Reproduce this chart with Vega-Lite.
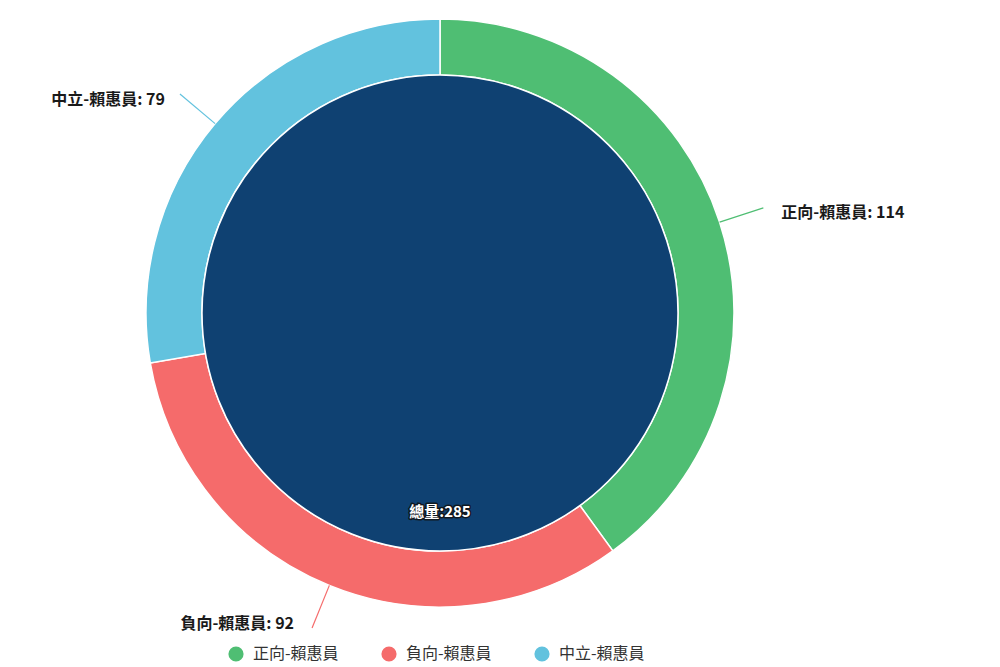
{
  "$schema": "https://vega.github.io/schema/vega-lite/v6.json",
  "width": 880,
  "height": 667,
  "padding": 0,
  "background": "white",
  "data": {
    "values": [
      {"cat": "正向-賴惠員", "count": 114, "order": 1},
      {"cat": "負向-賴惠員", "count": 92, "order": 2},
      {"cat": "中立-賴惠員", "count": 79, "order": 3}
    ]
  },
  "transform": [
    {"window": [{"op": "sum", "field": "count", "as": "cum"}], "sort": [{"field": "order"}], "frame": [null, 0]},
    {"joinaggregate": [{"op": "sum", "field": "count", "as": "total"}]},
    {"calculate": "2 * PI * (datum.cum - datum.count / 2) / datum.total", "as": "mid"},
    {"calculate": "294 * sin(datum.mid)", "as": "ax"},
    {"calculate": "294 * cos(datum.mid)", "as": "ay"},
    {"calculate": "340 * sin(datum.mid)", "as": "bx"},
    {"calculate": "340 * cos(datum.mid)", "as": "by"},
    {"calculate": "datum.cat + ': ' + datum.count", "as": "label"}
  ],
  "layer": [
    {
      "mark": {"type": "arc", "outerRadius": 294, "innerRadius": 238, "stroke": "white", "strokeWidth": 1.5},
      "encoding": {
        "x": {"datum": 0, "type": "quantitative", "scale": {"domain": [-440, 440], "nice": false, "zero": false}, "axis": null},
        "y": {"datum": 0, "type": "quantitative", "scale": {"domain": [-354, 313], "nice": false, "zero": false}, "axis": null},
        "theta": {"field": "count", "type": "quantitative", "stack": true},
        "order": {"field": "order"},
        "color": {
          "field": "cat",
          "type": "nominal",
          "scale": {
            "domain": ["正向-賴惠員", "負向-賴惠員", "中立-賴惠員"],
            "range": ["#4fbe73", "#f56b6b", "#62c2de"]
          },
          "legend": {"title": null, "orient": "none", "direction": "horizontal", "legendX": 228, "legendY": 646}
        }
      }
    },
    {
      "mark": {"type": "rule", "strokeWidth": 1.2},
      "encoding": {
        "x": {"field": "ax", "type": "quantitative"},
        "y": {"field": "ay", "type": "quantitative"},
        "x2": {"field": "bx"},
        "y2": {"field": "by"},
        "color": {"field": "cat", "type": "nominal", "legend": null}
      }
    },
    {
      "transform": [{"filter": "datum.cat == '正向-賴惠員'"}],
      "mark": {"type": "text", "align": "left", "baseline": "middle", "dx": 18, "dy": 5, "font": "Noto Sans CJK TC", "fontSize": 16, "fontWeight": "bold", "color": "#1a1a1a"},
      "encoding": {
        "x": {"field": "bx", "type": "quantitative"},
        "y": {"field": "by", "type": "quantitative"},
        "text": {"field": "label"}
      }
    },
    {
      "transform": [{"filter": "datum.cat == '中立-賴惠員'"}],
      "mark": {"type": "text", "align": "right", "baseline": "middle", "dx": -15, "dy": 6, "font": "Noto Sans CJK TC", "fontSize": 16, "fontWeight": "bold", "color": "#1a1a1a"},
      "encoding": {
        "x": {"field": "bx", "type": "quantitative"},
        "y": {"field": "by", "type": "quantitative"},
        "text": {"field": "label"}
      }
    },
    {
      "transform": [{"filter": "datum.cat == '負向-賴惠員'"}],
      "mark": {"type": "text", "align": "right", "baseline": "middle", "dx": -18, "dy": -4, "font": "Noto Sans CJK TC", "fontSize": 16, "fontWeight": "bold", "color": "#1a1a1a"},
      "encoding": {
        "x": {"field": "bx", "type": "quantitative"},
        "y": {"field": "by", "type": "quantitative"},
        "text": {"field": "label"}
      }
    },
    {
      "transform": [{"aggregate": [{"op": "sum", "field": "count", "as": "sum"}]}],
      "mark": {"type": "arc", "outerRadius": 238, "color": "#0f4172", "stroke": "white", "strokeWidth": 1.5},
      "encoding": {
        "x": {"datum": 0, "type": "quantitative"},
        "y": {"datum": 0, "type": "quantitative"},
        "theta": {"field": "sum", "type": "quantitative"}
      }
    },
    {
      "transform": [
        {"aggregate": [{"op": "sum", "field": "count", "as": "sum"}]},
        {"calculate": "'總量:' + datum.sum", "as": "tl"}
      ],
      "mark": {"type": "text", "dy": 199, "baseline": "middle", "font": "Noto Sans CJK TC", "fontSize": 15, "fontWeight": "bold", "fill": "white", "stroke": "#111111", "strokeWidth": 3, "strokeOpacity": 0.85, "strokeJoin": "round"},
      "encoding": {
        "x": {"datum": 0, "type": "quantitative"},
        "y": {"datum": 0, "type": "quantitative"},
        "text": {"field": "tl"}
      }
    },
    {
      "transform": [
        {"aggregate": [{"op": "sum", "field": "count", "as": "sum"}]},
        {"calculate": "'總量:' + datum.sum", "as": "tl"}
      ],
      "mark": {"type": "text", "dy": 199, "baseline": "middle", "font": "Noto Sans CJK TC", "fontSize": 15, "fontWeight": "bold", "fill": "white"},
      "encoding": {
        "x": {"datum": 0, "type": "quantitative"},
        "y": {"datum": 0, "type": "quantitative"},
        "text": {"field": "tl"}
      }
    }
  ],
  "resolve": {"scale": {"theta": "independent"}},
  "config": {
    "view": {"stroke": null},
    "legend": {
      "symbolType": "circle",
      "symbolSize": 230,
      "symbolStrokeWidth": 0,
      "symbolOpacity": 1,
      "labelFont": "Noto Sans CJK TC",
      "labelFontSize": 16,
      "labelColor": "#333333",
      "columnPadding": 42,
      "symbolOffset": 0,
      "labelOffset": 9
    }
  }
}
